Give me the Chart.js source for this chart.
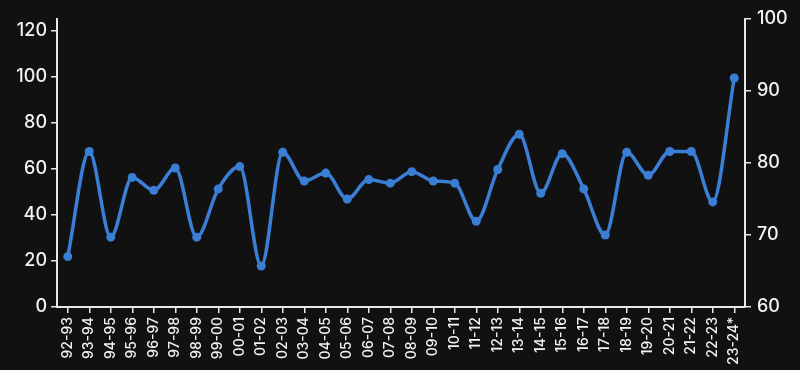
<!DOCTYPE html>
<html>
<head>
<meta charset="utf-8">
<script src="https://cdn.jsdelivr.net/npm/chart.js@4"></script>
<style>
  html, body { margin: 0; padding: 0; background: #111111; }
  #wrap { width: 800px; height: 370px; }
</style>
</head>
<body>
<div id="wrap"><canvas id="chart" width="800" height="370"></canvas></div>
<script>
// seasons on the x axis
const seasons = ['92-93','93-94','94-95','95-96','96-97','97-98','98-99','99-00','00-01','01-02',
  '02-03','03-04','04-05','05-06','06-07','07-08','08-09','09-10','10-11','11-12',
  '12-13','13-14','14-15','15-16','16-17','17-18','18-19','19-20','20-21','21-22',
  '22-23','23-24*'];

// values read against the right hand axis (60-100)
const values = [67, 81.6, 69.7, 78, 76.2, 79.3, 69.7, 76.4, 79.5, 65.7,
  81.5, 77.5, 78.6, 75, 77.7, 77.2, 78.8, 77.5, 77.2, 71.9,
  79.1, 84, 75.8, 81.3, 76.4, 70, 81.5, 78.3, 81.6, 81.6,
  74.6, 91.8];

const leftTicks = [0, 20, 40, 60, 80, 100, 120];
const rightTicks = [60, 70, 80, 90, 100];

const axisColor = '#e8e8e8';
const lineColor = '#3a7fd5';

const ctx = document.getElementById('chart');
new Chart(ctx, {
  type: 'line',
  data: {
    labels: seasons,
    datasets: [{
      data: values,
      yAxisID: 'y1',
      borderColor: lineColor,
      backgroundColor: lineColor,
      borderWidth: 3.5,
      pointRadius: 4.5,
      pointHoverRadius: 4.5,
      pointBorderWidth: 0,
      cubicInterpolationMode: 'monotone',
      fill: false
    }]
  },
  options: {
    responsive: false,
    animation: false,
    layout: { padding: { top: 19, left: 0, right: 0, bottom: 0 } },
    plugins: { legend: { display: false }, tooltip: { enabled: false } },
    scales: {
      x: {
        offset: true,
        grid: { display: true, drawOnChartArea: false, color: axisColor, tickLength: 6, offset: false, lineWidth: 1.5 },
        border: { display: true, color: axisColor, width: 2 },
        ticks: {
          color: '#f2f2f2', font: { family: 'Inter', size: 14, weight: 500 },
          minRotation: 90, maxRotation: 90, autoSkip: false, padding: 4
        },
        afterFit: s => { s.height = 63; }
      },
      y: {
        position: 'left',
        min: 0, max: 125,
        grid: { display: true, drawOnChartArea: false, color: axisColor, tickLength: 6, lineWidth: 1.5 },
        border: { display: true, color: axisColor, width: 2 },
        ticks: { color: '#f2f2f2', font: { family: 'Inter', size: 18, weight: 500 }, padding: 4 },
        afterBuildTicks: s => { s.ticks = leftTicks.map(v => ({ value: v })); },
        afterFit: s => { s.width = 57; }
      },
      y1: {
        position: 'right',
        min: 60, max: 100,
        grid: { display: true, drawOnChartArea: false, color: axisColor, tickLength: 6, lineWidth: 1.5 },
        border: { display: true, color: axisColor, width: 2 },
        ticks: { color: '#f2f2f2', font: { family: 'Inter', size: 18, weight: 500 }, padding: 6 },
        afterBuildTicks: s => { s.ticks = rightTicks.map(v => ({ value: v })); },
        afterFit: s => { s.width = 55; }
      }
    }
  }
});
</script>
</body>
</html>
